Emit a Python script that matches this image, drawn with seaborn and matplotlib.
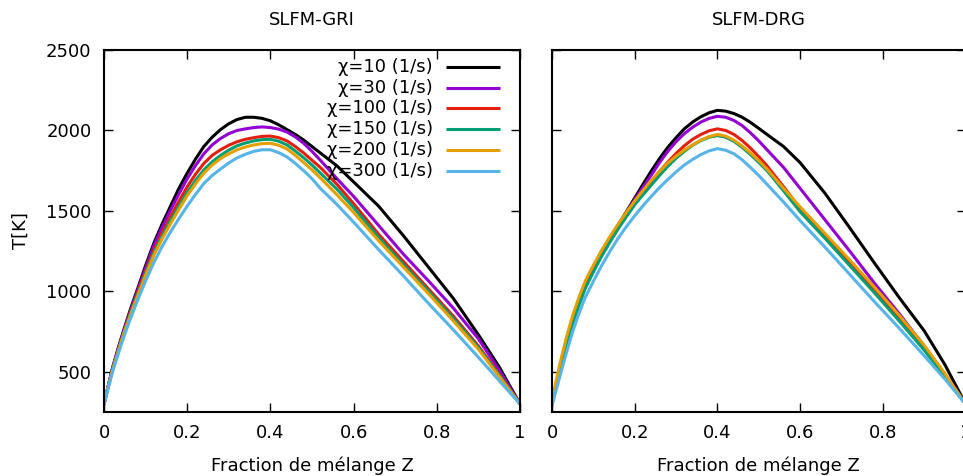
import numpy as np
import pandas as pd
import matplotlib
matplotlib.use("Agg")
import matplotlib.pyplot as plt
from matplotlib.lines import Line2D
import seaborn as sns

# ---------------- data ----------------
z = [0, 0.01, 0.02, 0.035, 0.05, 0.065, 0.08, 0.10, 0.12, 0.14, 0.16, 0.18,
     0.20, 0.22, 0.24, 0.26, 0.28, 0.30, 0.32, 0.34, 0.36, 0.38, 0.40, 0.42,
     0.44, 0.46, 0.48, 0.50, 0.52, 0.56, 0.60, 0.66, 0.72, 0.78, 0.84, 0.90,
     0.95, 1.0]

labels = ["χ=10 (1/s)", "χ=30 (1/s)", "χ=100 (1/s)",
          "χ=150 (1/s)", "χ=200 (1/s)", "χ=300 (1/s)"]
colors = ["#000000", "#9400D3", "#E51E10", "#009E73", "#E69F00", "#56B4E9"]

gri_10 = [300, 410, 520, 655, 780, 900, 1010, 1160, 1300, 1420, 1530, 1640,
          1735, 1822, 1900, 1958, 2005, 2042, 2068, 2082, 2082, 2075, 2060, 2035,
          2005, 1975, 1940, 1900, 1860, 1780, 1680, 1530, 1345, 1150, 955, 730,
          530, 300]
gri_30 = [300, 408, 515, 650, 775, 890, 1000, 1145, 1285, 1400, 1505, 1605,
          1700, 1782, 1855, 1910, 1950, 1980, 2000, 2010, 2018, 2022, 2018, 2008,
          1990, 1960, 1920, 1870, 1815, 1700, 1590, 1410, 1230, 1065, 895, 705,
          510, 300]
gri_100 = [300, 405, 510, 642, 765, 878, 985, 1125, 1255, 1365, 1465, 1560,
           1650, 1728, 1795, 1845, 1880, 1908, 1930, 1945, 1955, 1963, 1965, 1955,
           1935, 1900, 1860, 1815, 1770, 1665, 1545, 1355, 1185, 1015, 845, 660,
           485, 300]
gri_150 = [300, 404, 508, 638, 760, 870, 975, 1112, 1240, 1345, 1440, 1530,
           1615, 1690, 1755, 1805, 1845, 1878, 1905, 1922, 1935, 1943, 1945, 1933,
           1910, 1872, 1830, 1785, 1735, 1635, 1520, 1335, 1165, 1000, 830, 650,
           478, 300]
gri_200 = [300, 402, 505, 633, 755, 862, 965, 1100, 1225, 1328, 1420, 1510,
           1595, 1668, 1735, 1785, 1825, 1855, 1880, 1897, 1910, 1918, 1920, 1908,
           1885, 1845, 1800, 1755, 1705, 1600, 1490, 1315, 1150, 985, 815, 640,
           470, 300]
gri_300 = [300, 398, 495, 618, 735, 840, 940, 1065, 1180, 1280, 1370, 1452,
           1530, 1603, 1670, 1720, 1760, 1798, 1830, 1852, 1870, 1880, 1880, 1862,
           1835, 1795, 1750, 1700, 1640, 1540, 1430, 1260, 1095, 925, 760, 590,
           445, 300]

drg_10 = [300, 420, 530, 685, 820, 935, 1030, 1135, 1235, 1325, 1412, 1495,
          1580, 1665, 1748, 1825, 1895, 1955, 2010, 2052, 2085, 2110, 2125, 2120,
          2105, 2082, 2050, 2013, 1975, 1900, 1800, 1610, 1395, 1175, 960, 755,
          545, 300]
drg_30 = [300, 415, 525, 680, 815, 930, 1030, 1135, 1235, 1325, 1410, 1490,
          1570, 1647, 1722, 1800, 1870, 1930, 1980, 2020, 2052, 2075, 2088, 2082,
          2062, 2030, 1985, 1935, 1880, 1770, 1640, 1445, 1250, 1050, 860, 660,
          480, 300]
drg_100 = [300, 418, 530, 682, 815, 930, 1030, 1135, 1232, 1320, 1402, 1480,
           1555, 1620, 1682, 1745, 1803, 1857, 1905, 1945, 1975, 1998, 2010, 2000,
           1975, 1937, 1890, 1837, 1780, 1650, 1515, 1345, 1175, 1005, 830, 645,
           475, 300]
drg_150 = [300, 410, 520, 668, 800, 912, 1015, 1120, 1218, 1305, 1388, 1465,
           1538, 1600, 1660, 1720, 1777, 1827, 1870, 1908, 1937, 1958, 1968, 1958,
           1932, 1895, 1850, 1802, 1750, 1625, 1495, 1330, 1160, 990, 815, 635,
           470, 300]
drg_200 = [320, 445, 560, 715, 850, 962, 1062, 1162, 1255, 1340, 1418, 1492,
           1562, 1627, 1690, 1745, 1797, 1840, 1878, 1910, 1940, 1962, 1975, 1965,
           1940, 1903, 1860, 1812, 1760, 1640, 1525, 1360, 1195, 1025, 850, 665,
           490, 300]
drg_300 = [290, 385, 480, 620, 750, 860, 960, 1062, 1160, 1248, 1330, 1403,
           1470, 1532, 1590, 1645, 1695, 1742, 1785, 1820, 1850, 1873, 1887, 1877,
           1855, 1817, 1770, 1720, 1665, 1555, 1440, 1275, 1105, 935, 770, 600,
           455, 300]

titles = ["SLFM-GRI", "SLFM-DRG"]
xticks = [0, 0.2, 0.4, 0.6, 0.8, 1.0]
xticklabels = ["0", "0.2", "0.4", "0.6", "0.8", "1"]
yticks = [500, 1000, 1500, 2000, 2500]
yticklabels = ["500", "1000", "1500", "2000", "2500"]
xlabel = "Fraction de mélange Z"
ylabel = "T[K]"

series = {
    "SLFM-GRI": [gri_10, gri_30, gri_100, gri_150, gri_200, gri_300],
    "SLFM-DRG": [drg_10, drg_30, drg_100, drg_150, drg_200, drg_300],
}

rows = []
for panel, ys in series.items():
    for lab, yv in zip(labels, ys):
        for zz, tt in zip(z, yv):
            rows.append({"panel": panel, "chi": lab, "Z": zz, "T": tt})
df = pd.DataFrame(rows)

# ---------------- style ----------------
sns.set_theme(style="ticks")
plt.rcParams["font.family"] = ["DejaVu Sans"]
plt.rcParams.update({
    "axes.linewidth": 1.5,
    "axes.edgecolor": "black",
    "xtick.direction": "in",
    "ytick.direction": "in",
    "xtick.major.size": 6.5,
    "ytick.major.size": 6.5,
    "xtick.major.width": 1.0,
    "ytick.major.width": 1.0,
    "xtick.top": True,
    "ytick.right": True,
    "xtick.labelsize": 13,
    "ytick.labelsize": 13,
    "xtick.color": "black",
    "ytick.color": "black",
    "text.color": "black",
    "axes.labelcolor": "black",
})

W, H = 963, 476
fig = plt.figure(figsize=(W / 100, H / 100), dpi=100)
axL = fig.add_axes([104 / W, 64 / H, 416 / W, 362 / H])
axR = fig.add_axes([552 / W, 64 / H, 413.5 / W, 362 / H])

LW = 2.2
palette = dict(zip(labels, colors))
for ax, title in zip([axL, axR], titles):
    sub = df[df["panel"] == title]
    sns.lineplot(data=sub, x="Z", y="T", hue="chi", hue_order=labels,
                 palette=palette, linewidth=LW, errorbar=None,
                 legend=False, ax=ax)
    ax.set_xlim(0, 1)
    ax.set_ylim(250, 2500)
    ax.set_xticks(xticks)
    ax.set_xticklabels(xticklabels)
    ax.set_yticks(yticks)
    ax.set_title(title, fontsize=13, pad=18)
    ax.set_xlabel(xlabel, fontsize=13, labelpad=10)
    ax.tick_params(axis="x", pad=9)
    ax.tick_params(axis="y", pad=9)
    for s in ax.spines.values():
        s.set_visible(True)
        s.set_linewidth(1.5)

axL.set_yticklabels(yticklabels)
axL.set_ylabel(ylabel, fontsize=13, labelpad=12)
axR.set_yticklabels([])
axR.set_ylabel("")

# gnuplot-style key: right-aligned labels followed by line samples
key_text_x = 0.791
key_line_x0, key_line_x1 = 0.822, 0.952
key_y0, key_dy = 0.953, 0.0572
for i, (lab, col) in enumerate(zip(labels, colors)):
    yk = key_y0 - i * key_dy
    axL.text(key_text_x, yk, lab, transform=axL.transAxes, ha="right",
             va="center", fontsize=13, zorder=5)
    axL.add_line(Line2D([key_line_x0, key_line_x1], [yk, yk],
                        transform=axL.transAxes, color=col, linewidth=LW,
                        solid_capstyle="butt", zorder=5))

fig.savefig("out.png", dpi=100)
